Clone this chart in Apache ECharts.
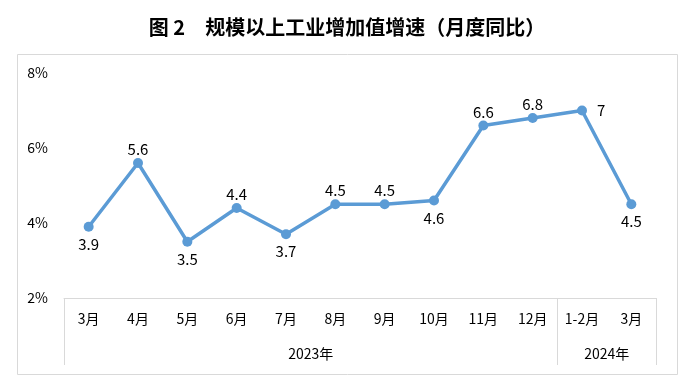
<!DOCTYPE html>
<html><head><meta charset="utf-8">
<style>html,body{margin:0;padding:0;background:#fff}#c{width:694px;height:389px}</style>
<script src="https://cdn.jsdelivr.net/npm/echarts@6/dist/echarts.min.js"></script>
</head><body><div id="c"></div>
<script>
const months = ['3月','4月','5月','6月','7月','8月','9月','10月','11月','12月','1-2月','3月'];
const values = [3.9, 5.6, 3.5, 4.4, 3.7, 4.5, 4.5, 4.6, 6.6, 6.8, 7, 4.5];
const labelPos = ['bottom','top','bottom','top','bottom','top','top','bottom','top','top','right','bottom'];
const years = ['2023年','2024年'];
const yearSpans = [10, 2];
const yTicks = [2, 4, 6, 8];

const bounds = [0];
yearSpans.forEach(s => bounds.push(bounds[bounds.length-1] + s));
const yearMids = yearSpans.map((s, i) => bounds[i] + s / 2);
const posDist = {top: 1, bottom: 5, right: 10};

const chart = echarts.init(document.getElementById('c'));
const font = '"Noto Sans CJK SC","Noto Sans",sans-serif';
chart.setOption({
  animation: false,
  title: {
    text: '图 2　规模以上工业增加值增速（月度同比）',
    left: 'center', top: 12,
    textStyle: {fontFamily: '"Noto Sans CJK SC",serif', fontWeight: 'bold', fontSize: 20, color: '#000'}
  },
  graphic: [{
    type: 'rect', shape: {x: 17.5, y: 54.5, width: 660, height: 320},
    style: {fill: 'none', stroke: '#d9d9d9', lineWidth: 1}, z: -1
  }],
  grid: {left: 64, right: 38, top: 73, bottom: 91},
  xAxis: [{
    type: 'category', data: months, boundaryGap: true,
    axisLine: {lineStyle: {color: '#d9d9d9', width: 1}},
    axisTick: {show: false},
    axisLabel: {color: '#000', fontSize: 14, margin: 14, fontFamily: font, interval: 0}
  }, {
    type: 'value', min: 0, max: months.length, position: 'bottom',
    axisLine: {show: false},
    splitLine: {show: false},
    axisTick: {show: true, customValues: bounds, length: 67, lineStyle: {color: '#d9d9d9'}},
    axisLabel: {
      customValues: yearMids, color: '#000', fontSize: 14, margin: 49, fontFamily: font,
      formatter: v => years[yearMids.indexOf(v)] || ''
    }
  }],
  yAxis: {
    type: 'value', min: yTicks[0], max: yTicks[yTicks.length-1], interval: 2,
    axisLine: {show: false}, axisTick: {show: false}, splitLine: {show: false},
    axisLabel: {formatter: '{value}%', color: '#000', fontSize: 14, margin: 16, fontFamily: font}
  },
  series: [{
    type: 'line', xAxisIndex: 0,
    data: values.map((v, i) => ({value: v, label: {position: labelPos[i], distance: posDist[labelPos[i]]}})),
    symbol: 'circle', symbolSize: 10,
    lineStyle: {color: '#5b9bd5', width: 3.5},
    itemStyle: {color: '#5b9bd5'},
    label: {show: true, color: '#000', fontSize: 15, fontFamily: font}
  }]
});
</script></body></html>
